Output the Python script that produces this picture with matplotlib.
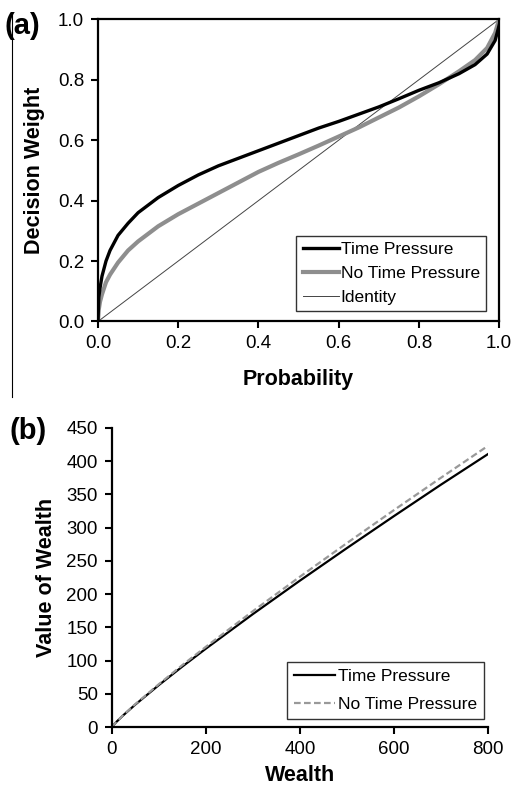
import matplotlib
matplotlib.use('Agg')
import matplotlib.pyplot as plt
from matplotlib.lines import Line2D

plt.rcParams['font.family'] = ['Liberation Sans', 'DejaVu Sans']

# panel (a): probability weighting
prob = [0, 0.002, 0.005, 0.01, 0.02, 0.03, 0.05, 0.075, 0.1, 0.15, 0.2, 0.25, 0.3,
        0.35, 0.4, 0.45, 0.5, 0.55, 0.6, 0.65, 0.7, 0.75, 0.8, 0.85, 0.9, 0.94,
        0.97, 0.99, 1.0]
w_tp = [0, 0.08, 0.11, 0.15, 0.20, 0.235, 0.285, 0.325, 0.36, 0.41, 0.45, 0.485,
        0.515, 0.54, 0.565, 0.59, 0.615, 0.64, 0.662, 0.686, 0.71, 0.737, 0.765,
        0.79, 0.82, 0.85, 0.885, 0.93, 0.98]
w_ntp = [0, 0.04, 0.065, 0.09, 0.13, 0.155, 0.195, 0.235, 0.265, 0.315, 0.355,
         0.39, 0.425, 0.46, 0.495, 0.525, 0.553, 0.582, 0.612, 0.642, 0.675, 0.708,
         0.745, 0.785, 0.828, 0.865, 0.905, 0.955, 1.0]
identity = [0, 1]

# panel (b): value of wealth
wealth = [0, 10, 25, 50, 100, 150, 200, 300, 400, 500, 600, 700, 800]
v_tp = [0, 7.9, 18.1, 33.8, 63.1, 91.0, 117.9, 169.9, 220.2, 269.2, 317.3, 364.6, 410.6]
v_ntp = [0, 8.0, 18.4, 34.5, 64.5, 93.2, 120.7, 174.3, 226.1, 276.7, 326.3, 375.0, 423.0]

fig = plt.figure(figsize=(5.13, 7.87), dpi=100)

tick_fs = 13.5
label_fs = 15.5
leg_fs = 12.5

# ---- (a)
ax1 = fig.add_axes([0.191, 0.5915, 0.782, 0.384])
ax1.plot(identity, identity, color='#444444', lw=0.7, label='Identity', zorder=1)
ax1.plot(prob, w_ntp, color='#8e8e8e', lw=3.0, label='No Time Pressure', zorder=2)
ax1.plot(prob, w_tp, color='black', lw=2.4, label='Time Pressure', zorder=3)
ax1.set_xlim(0, 1)
ax1.set_ylim(0, 1)
ax1.set_xticks([0, 0.2, 0.4, 0.6, 0.8, 1.0])
ax1.set_yticks([0, 0.2, 0.4, 0.6, 0.8, 1.0])
ax1.set_xticklabels(['0.0', '0.2', '0.4', '0.6', '0.8', '1.0'])
ax1.set_yticklabels(['0.0', '0.2', '0.4', '0.6', '0.8', '1.0'])
ax1.tick_params(direction='out', length=5, width=1.5, labelsize=tick_fs, pad=5)
for s in ax1.spines.values():
    s.set_linewidth(1.6)
ax1.set_xlabel('Probability', fontsize=label_fs, fontweight='bold', labelpad=12)
ax1.set_ylabel('Decision Weight', fontsize=label_fs, fontweight='bold', labelpad=9)
h, l = ax1.get_legend_handles_labels()
order = [2, 1, 0]
leg1 = ax1.legend([h[i] for i in order], [l[i] for i in order], loc='lower right',
                  bbox_to_anchor=(0.967, 0.035), fontsize=leg_fs, frameon=True,
                  fancybox=False, edgecolor='black', handlelength=2.1,
                  handletextpad=0.1, borderpad=0.35, labelspacing=0.5,
                  borderaxespad=0)
leg1.get_frame().set_linewidth(1.0)

# ---- (b)
ax2 = fig.add_axes([0.218, 0.0762, 0.733, 0.380])
ax2.plot(wealth, v_tp, color='black', lw=1.6, label='Time Pressure')
ax2.plot(wealth, v_ntp, color='#999999', lw=1.6, ls=(0, (3, 1.5)), label='No Time Pressure')
ax2.set_xlim(0, 800)
ax2.set_ylim(0, 450)
ax2.set_xticks([0, 200, 400, 600, 800])
ax2.set_yticks(range(0, 451, 50))
ax2.spines['top'].set_visible(False)
ax2.spines['right'].set_visible(False)
for s in ['left', 'bottom']:
    ax2.spines[s].set_linewidth(1.6)
ax2.tick_params(direction='out', length=5, width=1.5, labelsize=tick_fs, pad=5)
ax2.set_xlabel('Wealth', fontsize=label_fs, fontweight='bold', labelpad=5)
ax2.set_ylabel('Value of Wealth', fontsize=label_fs, fontweight='bold', labelpad=7)
leg2 = ax2.legend(loc='lower right', bbox_to_anchor=(0.99, 0.026), fontsize=leg_fs,
                  frameon=True, fancybox=False, edgecolor='black', handlelength=2.4,
                  handletextpad=0.15, borderpad=0.4, labelspacing=0.75,
                  borderaxespad=0)
leg2.get_frame().set_linewidth(1.0)

fig.text(0.008, 0.985, '(a)', fontsize=21, fontweight='bold', va='top', ha='left')
fig.text(0.018, 0.470, '(b)', fontsize=21, fontweight='bold', va='top', ha='left')

# thin vertical rule at left edge of panel (a)
fig.add_artist(Line2D([11.5 / 513, 11.5 / 513], [1 - 13 / 787, 1 - 397 / 787],
                      transform=fig.transFigure, color='black', lw=0.8))

fig.savefig('out.png', dpi=100)
